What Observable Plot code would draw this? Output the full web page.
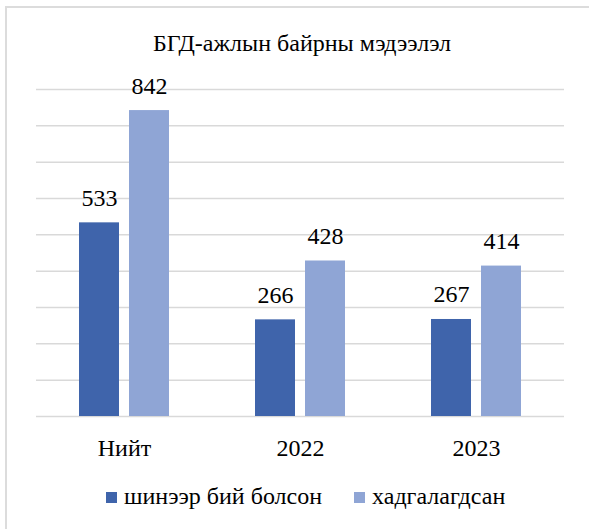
<!DOCTYPE html>
<html>
<head>
<meta charset="utf-8">
<script src="https://cdn.jsdelivr.net/npm/d3@7"></script>
<script src="https://cdn.jsdelivr.net/npm/@observablehq/plot@0.6"></script>
<style>
  html, body { margin: 0; padding: 0; background: #fff; }
  #wrap { position: relative; width: 589px; height: 529px; overflow: hidden; color: #000; font-family: "Liberation Serif", serif; }
  #frame { position: absolute; left: 5px; top: 6px; width: 700px; height: 700px; border: 2px solid #dcdcdc; box-sizing: border-box; }
  #title { position: absolute; left: 15px; top: 31px; width: 574px; text-align: center; font-size: 24px; line-height: 24px; white-space: nowrap; }
  #chart { position: absolute; left: 0; top: 60px; }
  #legend { position: absolute; left: 106px; top: 484px; display: flex; align-items: center; font-size: 24px; line-height: 24px; white-space: nowrap; }
  .item { display: flex; align-items: center; }
  .sw { width: 11px; height: 11px; margin-right: 7px; margin-top: 2px; }
</style>
</head>
<body>
<div id="wrap">
  <div id="frame"></div>
  <div id="title"></div>
  <div id="chart"></div>
  <div id="legend"></div>
</div>
<script>
const titleText = "БГД-ажлын байрны мэдээлэл";
const categories = ["Нийт", "2022", "2023"];
const series = ["шинээр бий болсон", "хадгалагдсан"];
const newJobs = [533, 266, 267];
const keptJobs = [842, 428, 414];
const colors = ["#3f64ab", "#8fa5d5"];
const gridValues = [0, 100, 200, 300, 400, 500, 600, 700, 800, 900];

const fontFamily = '"Liberation Serif", serif';
// warm up the local font synchronously so every text renders in it
(function warm() {
  const ctx = document.createElement("canvas").getContext("2d");
  ctx.font = "24px " + fontFamily;
  [titleText, ...categories, ...series, ...newJobs.map(String), ...keptJobs.map(String)].forEach(t => ctx.measureText(t));
})();

const data = categories.flatMap((c, i) => [
  {category: c, series: series[0], value: newJobs[i]},
  {category: c, series: series[1], value: keptJobs[i]}
]);

document.getElementById("title").textContent = titleText;

const chart = Plot.plot({
  width: 589,
  height: 410,
  marginTop: 29,
  marginBottom: 54,
  marginLeft: 36,
  marginRight: 25,
  style: {fontFamily: fontFamily, fontSize: "24px", color: "#000", background: "transparent", overflow: "visible"},
  fx: {domain: categories, padding: 0, label: null},
  x: {domain: series, paddingInner: 0.206, paddingOuter: 0.863, axis: null},
  y: {domain: [0, 900], axis: null},
  color: {domain: series, range: colors},
  marks: [
    Plot.ruleY(gridValues, {stroke: "#d9d9d9", strokeWidth: 1.5}),
    Plot.barY(data, {fx: "category", x: "series", y: "value", fill: "series"}),
    Plot.text(data, {fx: "category", x: "series", y: "value", text: d => String(d.value), dy: -17, lineAnchor: "bottom", fill: "#000", fontSize: 24}),
    Plot.axisFx({anchor: "bottom", tickSize: 0, tickPadding: 22, label: null, fontSize: 24})
  ]
});
document.getElementById("chart").appendChild(chart);

const legend = document.getElementById("legend");
series.forEach((s, i) => {
  const item = document.createElement("div");
  item.className = "item";
  if (i > 0) item.style.marginLeft = "32px";
  const sw = document.createElement("div");
  sw.className = "sw";
  sw.style.background = colors[i];
  const label = document.createElement("span");
  label.textContent = s;
  item.appendChild(sw);
  item.appendChild(label);
  legend.appendChild(item);
});
</script>
</body>
</html>
